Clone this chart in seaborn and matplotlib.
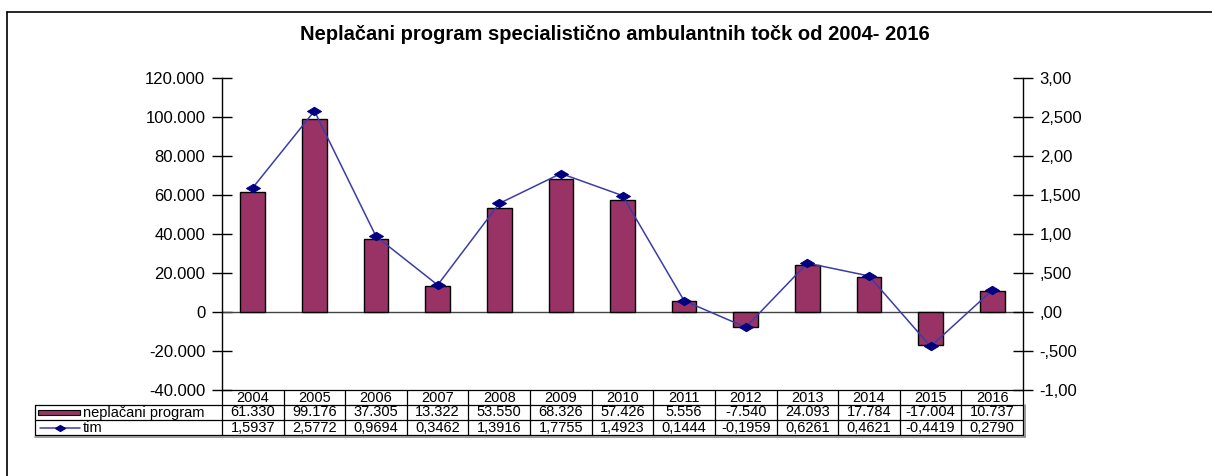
import numpy as np
import pandas as pd
import matplotlib
matplotlib.use("Agg")
import matplotlib.pyplot as plt
from matplotlib.lines import Line2D
from matplotlib.patches import Rectangle
import seaborn as sns

# ---- data ----
years = ["2004", "2005", "2006", "2007", "2008", "2009", "2010",
         "2011", "2012", "2013", "2014", "2015", "2016"]
neplacani = [61330, 99176, 37305, 13322, 53550, 68326, 57426,
             5556, -7540, 24093, 17784, -17004, 10737]
tim = [1.5937, 2.5772, 0.9694, 0.3462, 1.3916, 1.7755, 1.4923,
       0.1444, -0.1959, 0.6261, 0.4621, -0.4419, 0.2790]
neplacani_labels = ["61.330", "99.176", "37.305", "13.322", "53.550", "68.326", "57.426",
                    "5.556", "-7.540", "24.093", "17.784", "-17.004", "10.737"]
tim_labels = ["1,5937", "2,5772", "0,9694", "0,3462", "1,3916", "1,7755", "1,4923",
              "0,1444", "-0,1959", "0,6261", "0,4621", "-0,4419", "0,2790"]
left_ticks = [-40000, -20000, 0, 20000, 40000, 60000, 80000, 100000, 120000]
right_ticks = [-1.0, -0.5, 0.0, 0.5, 1.0, 1.5, 2.0, 2.5, 3.0]
right_tick_labels = ["-1,00", "-,500", ",00", ",500", "1,00", "1,500", "2,00", "2,500", "3,00"]
title = "Neplačani program specialistično ambulantnih točk od 2004- 2016"
series_names = ["neplačani program", "tim"]

BAR = "#993366"
LINE = "#3c3ca8"
MARK = "#000080"
DIAMOND = [(-1.0, 0.0), (0.0, 0.6), (1.0, 0.0), (0.0, -0.6), (-1.0, 0.0)]

sns.set_style("white")
plt.rcParams["font.family"] = ["Liberation Sans", "DejaVu Sans"]
plt.rcParams["text.color"] = "black"

W, H = 1212, 476
fig = plt.figure(figsize=(W / 100, H / 100), dpi=100)
L, R, T, B = 222, 1023, 78, 390
ax = fig.add_axes([L / W, 1 - B / H, (R - L) / W, (B - T) / H])

df = pd.DataFrame({"year": years, "val": neplacani, "tim": tim})
sns.barplot(data=df, x="year", y="val", color=BAR, saturation=1, edgecolor="black",
            linewidth=1.0, width=0.4, ax=ax, zorder=3)
ax.set_xlim(-0.5, len(years) - 0.5)
ax.set_ylim(left_ticks[0], left_ticks[-1])
ax.set_yticks(left_ticks)
ax.set_yticklabels([f"{v:,}".replace(",", ".") for v in left_ticks], fontsize=12)
ax.set_xticks([])
ax.set_xlabel("")
ax.set_ylabel("")
ax.axhline(0, color="#444444", lw=1.0, zorder=2)
for s in ["top", "bottom", "right"]:
    ax.spines[s].set_visible(False)
ax.spines["left"].set_color("black")
ax.spines["left"].set_linewidth(1.0)
ax.tick_params(axis="y", direction="inout", length=14, width=1, pad=5, colors="black", left=True)

ax2 = ax.twinx()
xs = np.arange(len(years))
sns.lineplot(x=xs, y=tim, ax=ax2, color=LINE, lw=1.1, marker=DIAMOND, markersize=10,
             markerfacecolor=MARK, markeredgecolor=MARK, zorder=5)
ax2.set_ylim(right_ticks[0], right_ticks[-1])
ax2.set_yticks(right_ticks)
ax2.set_yticklabels(right_tick_labels, fontsize=12)
ax2.set_xlim(-0.5, len(years) - 0.5)
for s in ["top", "bottom", "left"]:
    ax2.spines[s].set_visible(False)
ax2.spines["right"].set_color("black")
ax2.spines["right"].set_linewidth(1.0)
ax2.tick_params(axis="y", direction="inout", length=14, width=1, pad=5, colors="black", right=True)
ax2.set_ylabel("")

# title
fig.text(0.507, 1 - 35 / H, title, ha="center", va="center", fontsize=14.5, fontweight="bold",
         color="black")

# frame lines (left & top)
fig.add_artist(Line2D([7 / W, 7 / W], [0, 1 - 12 / H], color="black", lw=1.2, transform=fig.transFigure))
fig.add_artist(Line2D([7 / W, 1], [1 - 12 / H, 1 - 12 / H], color="black", lw=1.2, transform=fig.transFigure))

# data table below the plot
rowh = 15 / (B - T)
trans = ax.get_xaxis_transform()
n = len(years)
xl = (35 - L) / (R - L)  # label column left edge in axes fraction
tc = "black"
kw = dict(clip_on=False, lw=0.9, color=tc)
for k in range(4):
    ax.add_line(Line2D([-0.5, n - 0.5], [-k * rowh, -k * rowh], transform=trans, **kw))
for k in (1, 2, 3):
    ax.add_line(Line2D([xl, 0], [-k * rowh, -k * rowh], transform=ax.transAxes, **kw))
ax.add_line(Line2D([xl, xl], [-rowh, -3 * rowh], transform=ax.transAxes, **kw))
for i in range(n + 1):
    ax.add_line(Line2D([i - 0.5, i - 0.5], [0, -3 * rowh], transform=trans, **kw))
ax.add_line(Line2D([n - 0.5 + 0.03, n - 0.5 + 0.03], [-rowh, -3 * rowh - 0.006], transform=trans,
                   clip_on=False, lw=1.2, color="#888888"))
ax.add_line(Line2D([xl, 1.002], [-3 * rowh - 0.006, -3 * rowh - 0.006], transform=ax.transAxes,
                   clip_on=False, lw=1.2, color="#888888"))

fs = 10.5
for i in range(n):
    ax.text(i, -0.5 * rowh, years[i], transform=trans, ha="center", va="center", fontsize=fs, clip_on=False)
    ax.text(i, -1.5 * rowh, neplacani_labels[i], transform=trans, ha="center", va="center", fontsize=fs, clip_on=False)
    ax.text(i, -2.5 * rowh, tim_labels[i], transform=trans, ha="center", va="center", fontsize=fs, clip_on=False)

px = 1 / (R - L)
py = 1 / (B - T)
ax.add_patch(Rectangle((xl + 3 * px, -1.5 * rowh - 2.5 * py), 42 * px, 5 * py, transform=ax.transAxes,
                       facecolor=BAR, edgecolor="black", lw=0.8, clip_on=False))
ax.text(xl + 48 * px, -1.5 * rowh, series_names[0], transform=ax.transAxes, ha="left", va="center",
        fontsize=fs, clip_on=False)
ax.add_line(Line2D([xl + 5 * px, xl + 45 * px], [-2.5 * rowh, -2.5 * rowh], transform=ax.transAxes,
                   color=LINE, lw=1.1, clip_on=False))
ax.add_line(Line2D([xl + 25 * px], [-2.5 * rowh], transform=ax.transAxes, marker=DIAMOND, markersize=7,
                   color=MARK, clip_on=False))
ax.text(xl + 48 * px, -2.5 * rowh, series_names[1], transform=ax.transAxes, ha="left", va="center",
        fontsize=fs, clip_on=False)

fig.savefig("out.png", dpi=100)
